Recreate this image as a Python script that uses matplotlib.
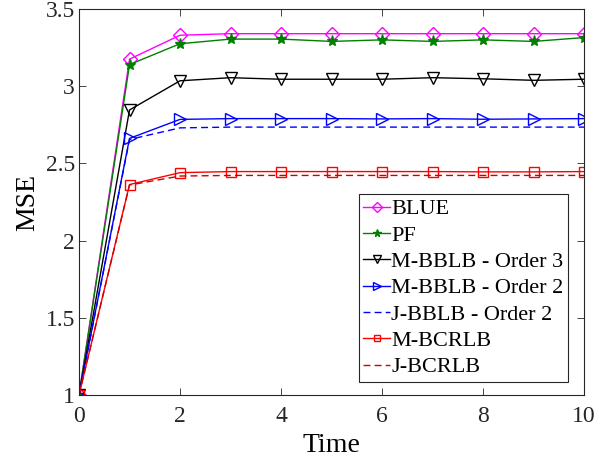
import numpy as np
import matplotlib.pyplot as plt

# data
t = [0, 1, 2, 3, 4, 5, 6, 7, 8, 9, 10]
blue = [1.0, 3.175, 3.33, 3.34, 3.34, 3.34, 3.34, 3.34, 3.34, 3.34, 3.34]
pf = [1.0, 3.14, 3.275, 3.305, 3.305, 3.29, 3.30, 3.29, 3.30, 3.29, 3.315]
m_bblb3 = [1.0, 2.846, 3.035, 3.055, 3.045, 3.045, 3.045, 3.055, 3.048, 3.038, 3.045]
m_bblb2 = [1.0, 2.662, 2.785, 2.79, 2.79, 2.79, 2.788, 2.79, 2.786, 2.788, 2.79]
j_bblb2 = [1.0, 2.655, 2.73, 2.735, 2.735, 2.735, 2.735, 2.735, 2.735, 2.735, 2.735]
m_bcrlb = [1.0, 2.363, 2.44, 2.447, 2.447, 2.447, 2.447, 2.447, 2.445, 2.445, 2.447]
j_bcrlb = [1.0, 2.36, 2.418, 2.422, 2.422, 2.422, 2.422, 2.422, 2.422, 2.422, 2.422]

plt.rcParams['font.family'] = ['Liberation Serif', 'DejaVu Serif']
plt.rcParams['mathtext.fontset'] = 'stix'

fig = plt.figure(figsize=(6.11, 4.61), dpi=100)
ax = fig.add_axes([0.1293, 0.1432, 0.8267, 0.8373])

ms = 8
ax.plot(t, blue, '-', color='#ff00ff', marker='D', mfc='none', ms=7, lw=1, label='BLUE')
ax.plot(t, pf, '-', color='#008000', marker='*', ms=8, lw=1, label='PF')
ax.plot(t, m_bblb3, '-', color='black', marker='v', mfc='none', ms=ms, lw=1,
        label='M-BBLB - Order 3')
ax.plot(t, m_bblb2, '-', color='blue', marker='>', mfc='none', ms=ms, lw=1,
        label='M-BBLB - Order 2')
ax.plot(t, j_bblb2, '--', color='blue', lw=1, dashes=(5, 3), label='J-BBLB - Order 2')
ax.plot(t, m_bcrlb, '-', color='red', marker='s', mfc='none', ms=6.5, lw=1,
        label='M-BCRLB')
ax.plot(t, j_bcrlb, '--', color='#cc0000', lw=1, dashes=(5, 3), label='J-BCRLB')

ax.set_xlim(0, 10)
ax.set_ylim(1, 3.5)
ax.set_xticks(np.arange(0, 11, 2))
ax.set_yticks(np.arange(1, 3.6, 0.5))
ax.set_yticklabels(['1', '1.5', '2', '2.5', '3', '3.5'])
ax.tick_params(direction='in', top=True, right=True, labelsize=17,
               colors='#262626', length=5, width=0.6, pad=3)
ax.tick_params(axis='x', pad=8)
for s in ax.spines.values():
    s.set_color('#262626')
    s.set_linewidth(0.8)

ax.set_xlabel('Time', fontsize=20, labelpad=4)
ax.set_ylabel('MSE', fontsize=20, labelpad=4)

leg = ax.legend(loc='lower right', bbox_to_anchor=(0.968, 0.034), fontsize=16,
                handlelength=1.2, handletextpad=0.05, labelspacing=0.26,
                borderpad=0.2, borderaxespad=0, fancybox=False, framealpha=1,
                edgecolor='#262626', markerscale=0.7)
leg.get_frame().set_linewidth(0.8)

plt.savefig('out.png', dpi=100)
